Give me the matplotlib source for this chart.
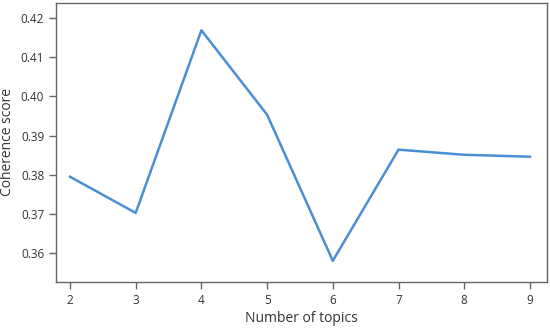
import matplotlib
matplotlib.use("Agg")
import matplotlib.pyplot as plt

plt.rcParams['font.family'] = ['Open Sans', 'DejaVu Sans']

topics = [2, 3, 4, 5, 6, 7, 8, 9]
coherence = [0.3795, 0.3703, 0.4168, 0.3953, 0.3581, 0.3864, 0.3851, 0.3846]

fig = plt.figure(figsize=(5.5, 3.28), dpi=100)
ax = fig.add_axes([56/550, 1 - 282/328, (547-56)/550, (282-3)/328])

ax.plot(topics, coherence, color='#4a8ed3', linewidth=1.8)

ax.set_xlim(1.787, 9.26)
ax.set_ylim(0.3527, 0.42375)
ax.set_xticks(topics)
ax.set_yticks([0.36, 0.37, 0.38, 0.39, 0.40, 0.41, 0.42])
ax.set_yticklabels(['0.36', '0.37', '0.38', '0.39', '0.40', '0.41', '0.42'])

ax.set_xlabel('Number of topics', fontsize=10, color='#333333', labelpad=3)
ax.set_ylabel('Coherence score', fontsize=10, color='#333333', labelpad=4)

for s in ax.spines.values():
    s.set_color('#666666')
    s.set_linewidth(1.0)
ax.tick_params(direction='out', length=5, width=1, color='#666666',
               labelcolor='#333333', labelsize=8.5)

fig.savefig('out.png', dpi=100)
